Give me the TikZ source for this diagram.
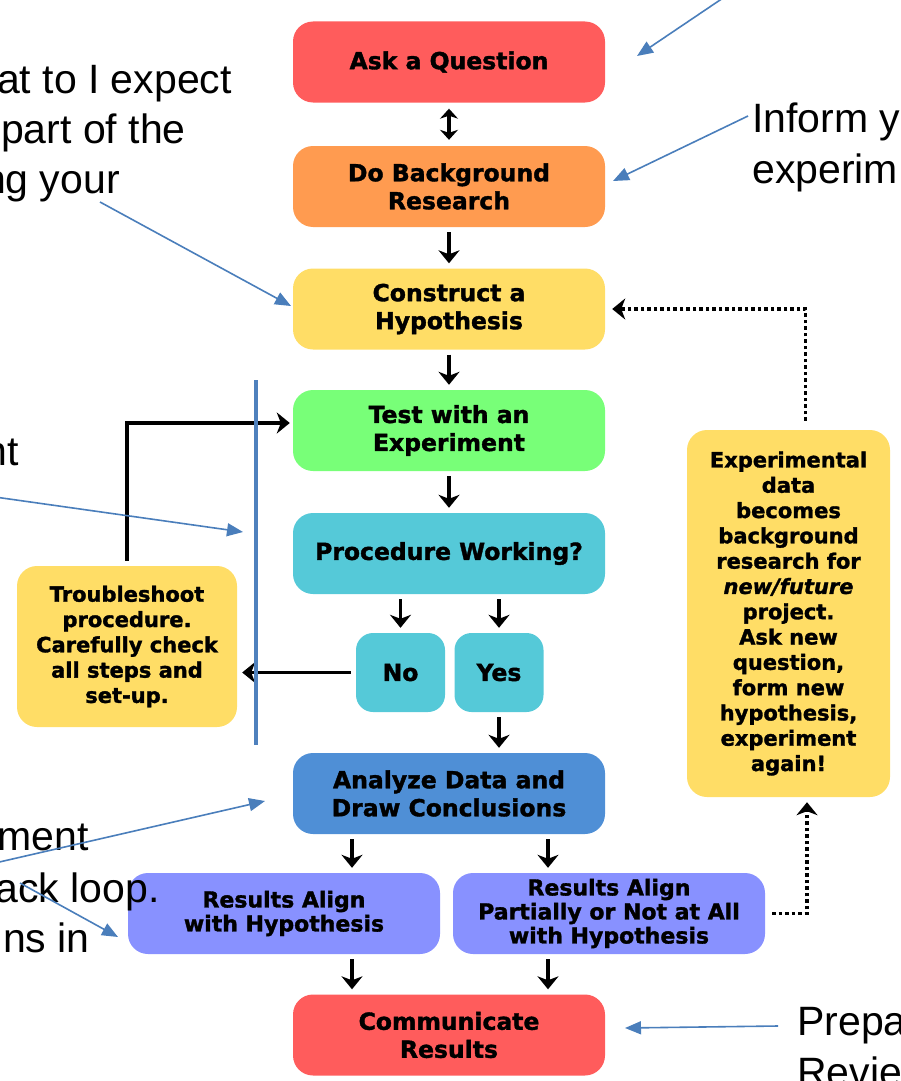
\documentclass[tikz,border=0pt]{standalone}
\usepackage{fontspec}
\setmainfont[BoldFeatures={FakeBold=1.5},BoldItalicFeatures={FakeBold=1.5}]{DejaVu Sans}
\newfontfamily\arialf{Liberation Sans}
\usetikzlibrary{arrows.meta}
\definecolor{redc}{HTML}{FF5C5C}
\definecolor{orangec}{HTML}{FF9B50}
\definecolor{yellowc}{HTML}{FFDD66}
\definecolor{greenc}{HTML}{78FF78}
\definecolor{cyanc}{HTML}{55C9D8}
\definecolor{bluec}{HTML}{4F8FD6}
\definecolor{purplec}{HTML}{8891FF}
\definecolor{annblue}{HTML}{4A7EBB}
\definecolor{barblue}{HTML}{4F81BD}
\begin{document}
\begin{tikzpicture}[x=1pt,y=-1pt,
  box/.style={rounded corners=20pt, minimum width=312pt, minimum height=81pt, inner sep=0pt, align=center, text=black, font=\fontsize{23.5}{28}\selectfont\bfseries},
  resbox/.style={box, fill=purplec, font=\fontsize{22}{24}\selectfont\bfseries},
  smallbox/.style={box, fill=cyanc, rounded corners=17pt, minimum width=89pt, minimum height=79pt},
  sidebox/.style={rounded corners=20pt, fill=yellowc, inner sep=0pt, align=center, text=black, font=\fontsize{21}{25.3}\selectfont\bfseries},
  barr/.style={line width=3.6pt, shorten <=5pt, shorten >=5pt, -{Stealth[length=13pt,width=21pt,inset=4pt]}},
  dotarr/.style={line width=3.6pt, dash pattern=on 3.5pt off 3pt, -{Stealth[length=13pt,width=21pt,inset=4pt]}},
  annarr/.style={draw=annblue, line width=1.6pt, -{Triangle[length=16pt,width=13pt]}},
  ann/.style={inner sep=0pt, font=\arialf\fontsize{41}{51}\selectfont}
]
\useasboundingbox (0,0) rectangle (900,1081);

% main column
\node[box, fill=redc] (ask) at (449,62) {Ask a Question};
\node[box, fill=orangec] (bg) at (449,186.5) {Do Background\\Research};
\node[box, fill=yellowc] (hyp) at (449,309) {Construct a\\Hypothesis};
\node[box, fill=greenc] (test) at (449,430.5) {Test with an\\Experiment};
\node[box, fill=cyanc] (proc) at (449,553.5) {Procedure Working?};
\node[smallbox] (no) at (400.5,672.5) {No};
\node[smallbox] (yes) at (499,672.5) {Yes};
\node[box, fill=bluec] (ana) at (449,793.5) {Analyze Data and\\Draw Conclusions};
\node[resbox] (r1) at (284,913.5) {Results Align\\with Hypothesis};
\node[resbox] (r2) at (609,913.5) {Results Align\\Partially or Not at All\\with Hypothesis};
\node[box, fill=redc] (comm) at (449,1035) {Communicate\\Results};
\node[sidebox, minimum width=220pt, minimum height=161pt] (trouble) at (127,646.5) {Troubleshoot\\procedure.\\Carefully check\\all steps and\\set-up.};
\node[sidebox, minimum width=203pt, minimum height=367pt] (expd) at (788.5,613.5) {Experimental\\data\\becomes\\background\\research for\\\textit{new/future}\\project.\\Ask new\\question,\\form new\\hypothesis,\\experiment\\again!};

% black connectors
\draw[line width=3.6pt, shorten <=6pt, shorten >=6pt, {Stealth[length=10pt,width=18pt,inset=3pt]}-{Stealth[length=10pt,width=18pt,inset=3pt]}] (ask.south) -- (bg.north);
\draw[barr] (bg.south) -- (hyp.north);
\draw[barr] (hyp.south) -- (test.north);
\draw[barr] (test.south) -- (proc.north);
\draw[barr] (no.north |- proc.south) -- (no.north);
\draw[barr] (yes.north |- proc.south) -- (yes.north);
\draw[barr] (yes.south) -- (yes.south |- ana.north);
\draw[barr] ([xshift=-97pt]ana.south) -- ([xshift=-97pt]ana.south |- r1.north);
\draw[barr] ([xshift=99pt]ana.south) -- ([xshift=99pt]ana.south |- r2.north);
\draw[barr] ([xshift=68pt]r1.south) -- ([xshift=68pt]r1.south |- comm.north);
\draw[barr] ([xshift=-61pt]r2.south) -- ([xshift=-61pt]r2.south |- comm.north);
\draw[barr] (no.west) -- (no.west -| trouble.east);
\draw[barr, shorten >=3pt] (trouble.north) |- ([yshift=7.5pt]test.west);

% dotted feedback
\draw[dotarr, shorten <=9pt, shorten >=7pt] ([xshift=17pt]expd.north) |- (hyp.east);
\draw[dotarr, shorten <=7pt, shorten >=5pt] (r2.east) -| ([xshift=18.5pt]expd.south);

% blue bar
\coordinate (bartop) at (256,380);
\coordinate (barbot) at (256,745);
\draw[line width=4pt, draw=barblue] (bartop) -- (barbot);

% annotation texts
\node[ann, anchor=base east] (t1a) at (232,93) {at to I expect};
\node[ann, anchor=base east] (t1b) at (186,143) {part of the};
\node[ann, anchor=base east] (t1c) at (120,193) {ng your};
\node[ann, anchor=base west] (t2a) at (752,132) {Inform y};
\node[ann, anchor=base west] (t2b) at (752,183) {experim};
\node[ann, anchor=base east] (t3) at (19,465) {nt};
\node[ann, anchor=base east] (t4a) at (89,850) {ment};
\node[ann, anchor=base east] (t4b) at (160,902) {ack loop.};
\node[ann, anchor=base east] (t4c) at (90,952) {ns in};
\node[ann, anchor=base west] (t5a) at (797,1035) {Prepa};
\node[ann, anchor=base west] (t5b) at (797,1086) {Revie};

% annotation arrows
\coordinate (a1s) at (726,-4);   \coordinate (a1e) at (637,56);
\coordinate (a2s) at (748,116);  \coordinate (a2e) at (613,181);
\coordinate (a3s) at (100,202);  \coordinate (a3e) at (291,306);
\coordinate (a4s) at (-5,497);   \coordinate (a4e) at (243,532);
\coordinate (a5s) at (-5,863);   \coordinate (a5e) at (265,801);
\coordinate (a6s) at (20,883);   \coordinate (a6e) at (118,937);
\coordinate (a7s) at (778,1026); \coordinate (a7e) at (625,1028);
\draw[annarr] (a1s) -- (a1e);
\draw[annarr] (a2s) -- (a2e);
\draw[annarr] (a3s) -- (a3e);
\draw[annarr] (a4s) -- (a4e);
\draw[annarr] (a5s) -- (a5e);
\draw[annarr] (a6s) -- (a6e);
\draw[annarr] (a7s) -- (a7e);
\end{tikzpicture}
\end{document}
